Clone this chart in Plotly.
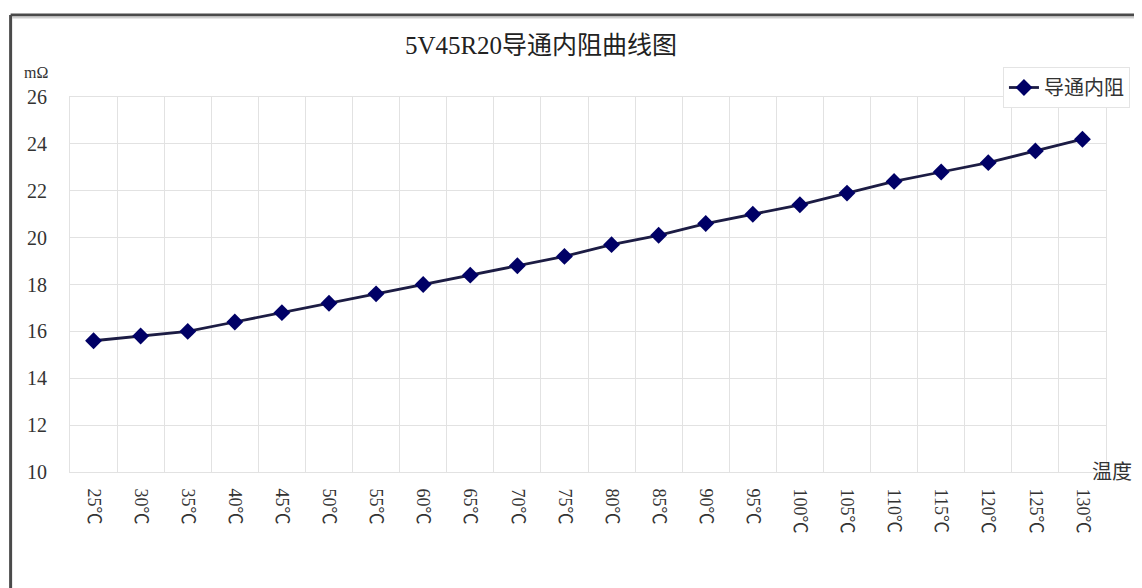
import plotly.graph_objects as go

temps = ["25℃", "30℃", "35℃", "40℃", "45℃", "50℃", "55℃", "60℃", "65℃", "70℃", "75℃",
         "80℃", "85℃", "90℃", "95℃", "100℃", "105℃", "110℃", "115℃", "120℃", "125℃", "130℃"]
resistance = [15.6, 15.8, 16.0, 16.4, 16.8, 17.2, 17.6, 18.0, 18.4, 18.8, 19.2,
              19.7, 20.1, 20.6, 21.0, 21.4, 21.9, 22.4, 22.8, 23.2, 23.7, 24.2]
y_ticks = [10, 12, 14, 16, 18, 20, 22, 24, 26]

title_text = "5V45R20导通内阻曲线图"
series_name = "导通内阻"
y_unit = "mΩ"
x_title = "温度"

FONT = "Liberation Serif, Noto Sans CJK SC, serif"
GRID = "#e2e2e2"

# page body has an 8px margin; figure sized to fit the 1142x588 window
OFF = 8
W, H = 1142 - OFF, 588 - OFF
# plot area in screen pixels
PL, PR, PT, PB = 70, 1108, 97, 472
L, R, T, B = PL - OFF, (W + OFF) - PR, PT - OFF, (H + OFF) - PB
pw, ph = W - L - R, H - T - B


def px_x(x):
    return (x - PL) / pw


def px_y(y):
    return (PB - y) / ph


fig = go.Figure()
fig.add_trace(go.Scatter(
    x=temps, y=resistance, name=series_name, mode="lines+markers",
    line=dict(color="#1c1c44", width=2.8),
    marker=dict(symbol="diamond", size=13, color="#000066"),
))

fig.update_layout(
    width=W, height=H,
    margin=dict(l=L, r=R, t=T, b=B),
    paper_bgcolor="white", plot_bgcolor="white",
    font=dict(family=FONT, color="#2a2a2a"),
    title=dict(text=title_text, xref="container", yref="container",
               x=(541 - OFF) / W, y=1 - (45 - OFF) / H, xanchor="center", yanchor="middle",
               font=dict(size=25, family=FONT, color="#222")),
    showlegend=True,
    legend=dict(x=px_x(1132), y=px_y(67), xanchor="right", yanchor="top",
                bgcolor="white", bordercolor="#e4e4e4", borderwidth=1,
                font=dict(size=20, family="Noto Sans CJK SC", color="#333")),
    xaxis=dict(type="category", tickson="boundaries", showgrid=True, gridcolor=GRID,
               range=[-0.5, len(temps) - 0.5], autorange=False,
               showline=True, linecolor=GRID, mirror=True, ticks="",
               tickangle=90, tickfont=dict(size=18, family=FONT, color="#333"),
               ticklabelstandoff=12, zeroline=False),
    yaxis=dict(range=[10, 26], tickvals=y_ticks, showgrid=True, gridcolor=GRID,
               showline=True, linecolor=GRID, mirror=True, ticks="",
               tickfont=dict(size=20, family=FONT, color="#333"),
               ticklabelstandoff=18, zeroline=False),
    annotations=[
        dict(text=y_unit, xref="paper", yref="paper", x=px_x(36), y=px_y(73),
             xanchor="center", yanchor="middle", showarrow=False,
             font=dict(size=16, family=FONT, color="#333")),
        dict(text=x_title, xref="paper", yref="paper", x=px_x(1114), y=px_y(470),
             xanchor="center", yanchor="middle", showarrow=False,
             font=dict(size=20, family="Noto Sans CJK SC", color="#333")),
    ],
    shapes=[
        dict(type="line", xref="paper", yref="paper", x0=px_x(10.5), x1=px_x(1160),
             y0=px_y(15), y1=px_y(15), line=dict(color="#4a4a4a", width=3)),
        dict(type="line", xref="paper", yref="paper", x0=px_x(10.5), x1=px_x(10.5),
             y0=px_y(15), y1=px_y(610), line=dict(color="#4a4a4a", width=3)),
        dict(type="line", xref="paper", yref="paper", x0=px_x(12), x1=px_x(1160),
             y0=px_y(17.5), y1=px_y(17.5), line=dict(color="#cfcfcf", width=2)),
    ],
)

fig.write_html("out.html")
